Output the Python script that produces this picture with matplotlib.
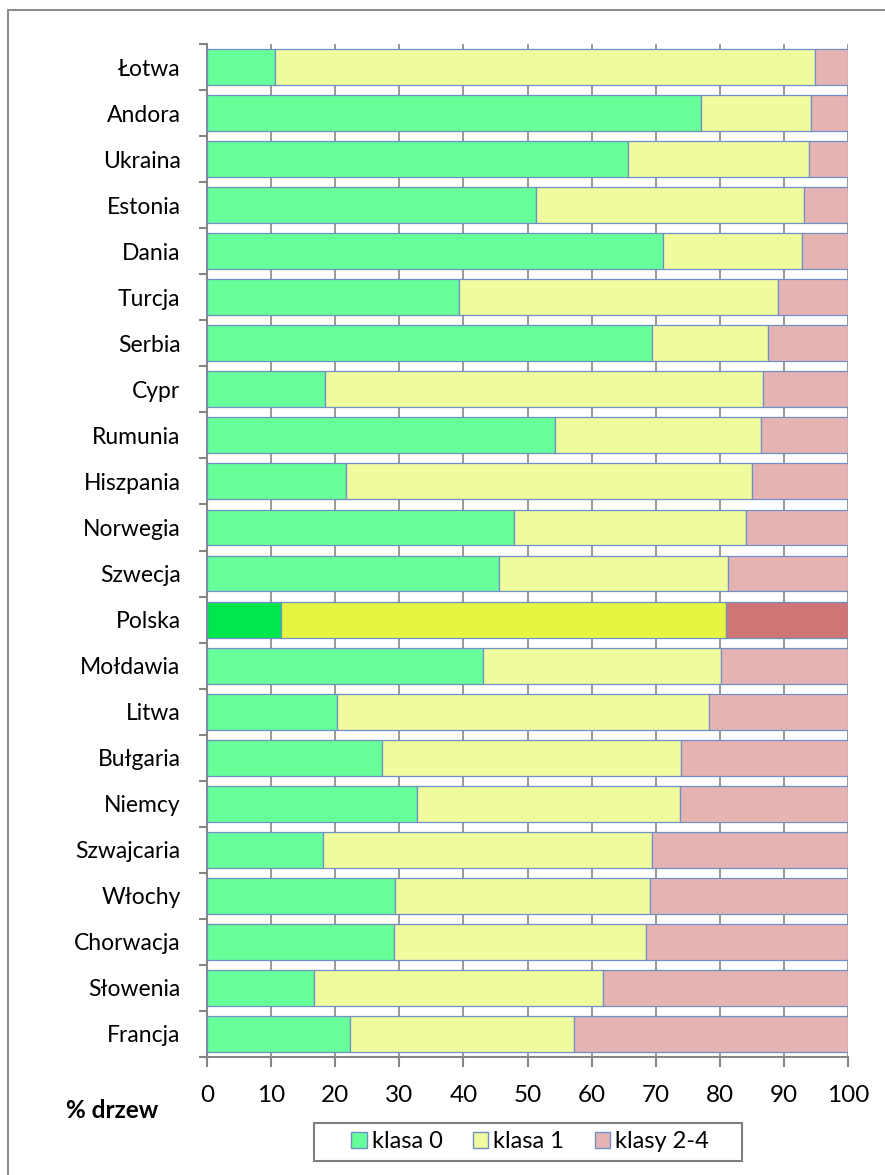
import matplotlib
matplotlib.use('Agg')
import matplotlib.pyplot as plt
from matplotlib.patches import Rectangle

# --- dane ---
kraje = ['Łotwa', 'Andora', 'Ukraina', 'Estonia', 'Dania', 'Turcja', 'Serbia',
         'Cypr', 'Rumunia', 'Hiszpania', 'Norwegia', 'Szwecja', 'Polska',
         'Mołdawia', 'Litwa', 'Bułgaria', 'Niemcy', 'Szwajcaria', 'Włochy',
         'Chorwacja', 'Słowenia', 'Francja']
klasa0 = [10.6, 77.1, 65.7, 51.3, 71.1, 39.3, 69.4, 18.4, 54.3, 21.7, 47.9,
          45.6, 11.5, 43.1, 20.3, 27.3, 32.8, 18.1, 29.3, 29.2, 16.7, 22.3]
klasa0_1 = [94.9, 94.2, 93.9, 93.1, 92.8, 89.1, 87.5, 86.7, 86.4, 85.0, 84.1,
            81.3, 81.0, 80.2, 78.3, 73.9, 73.8, 69.4, 69.1, 68.5, 61.8, 57.3]
klasa1 = [b - a for a, b in zip(klasa0, klasa0_1)]
klasy24 = [100 - b for b in klasa0_1]
wyrozniony = 'Polska'

kolory = ['#66FF99', '#F0FA9F', '#E6B3B3']
kolory_pl = ['#00E64D', '#E6F542', '#D07575']

plt.rcParams['font.family'] = ['Lato', 'DejaVu Sans']

fig = plt.figure(figsize=(8.85, 11.75), dpi=100)
W, H = 885, 1175
ax = fig.add_axes([207 / W, 1 - 1057 / H, (848 - 207) / W, (1057 - 44) / H])

# ramka wykresu
fig.patches.append(Rectangle((8 / W, -0.1), 1.2, 1 - 10 / H + 0.1,
                             transform=fig.transFigure, fill=False,
                             edgecolor='#8C8C8C', linewidth=1.5))

n = len(kraje)
y = list(range(n))[::-1]
h = 0.78
for i, kraj in enumerate(kraje):
    kol = kolory_pl if kraj == wyrozniony else kolory
    left = 0
    for j, seria in enumerate([klasa0, klasa1, klasy24]):
        ax.barh(y[i], seria[i], left=left, height=h, color=kol[j],
                edgecolor='#6F8FC9', linewidth=0.9, zorder=3)
        left += seria[i]

ax.set_xlim(0, 100)
ax.set_ylim(-0.5, n - 0.5)
ax.set_xticks(range(0, 101, 10))
ax.set_yticks([v - 0.5 for v in range(n + 1)], minor=False)
ax.set_yticklabels([])
ax.set_yticks(y, minor=True)
ax.set_yticklabels(kraje, minor=True)
ax.tick_params(axis='y', which='minor', length=0, pad=19, labelsize=16.5)
ax.tick_params(axis='y', which='major', length=6, width=1.5, color='#868686')
ax.tick_params(axis='x', length=7, width=1.5, color='#868686', labelsize=17.5, pad=13)
ax.grid(axis='x', color='#868686', linewidth=1.2, zorder=0)
for s in ['top', 'right']:
    ax.spines[s].set_visible(False)
for s in ['left', 'bottom']:
    ax.spines[s].set_color('#868686')
    ax.spines[s].set_linewidth(1.5)

fig.text(112 / W, 1 - 1110 / H, '% drzew', fontsize=17.5, fontweight='bold',
         ha='center', va='center')

# legenda z ramka rysowana osobno (szersza niz domyslna)
fig.patches.append(Rectangle((314 / W, 1 - 1161 / H), (742 - 314) / W, 38 / H,
                             transform=fig.transFigure, fill=False,
                             edgecolor='#7F7F7F', linewidth=1.5))
uchwyty = [Rectangle((0, 0), 1, 1, facecolor=c, edgecolor='#6F8FC9') for c in kolory]
leg = fig.legend(uchwyty, ['klasa 0', 'klasa 1', 'klasy 2-4'], ncol=3,
                 loc='center', bbox_to_anchor=(530 / W, 1 - 1142 / H),
                 fontsize=17, frameon=False,
                 handlelength=0.65, handleheight=0.65, handletextpad=0.2,
                 columnspacing=1.3, borderpad=0.3)

fig.savefig('out.png', dpi=100)
